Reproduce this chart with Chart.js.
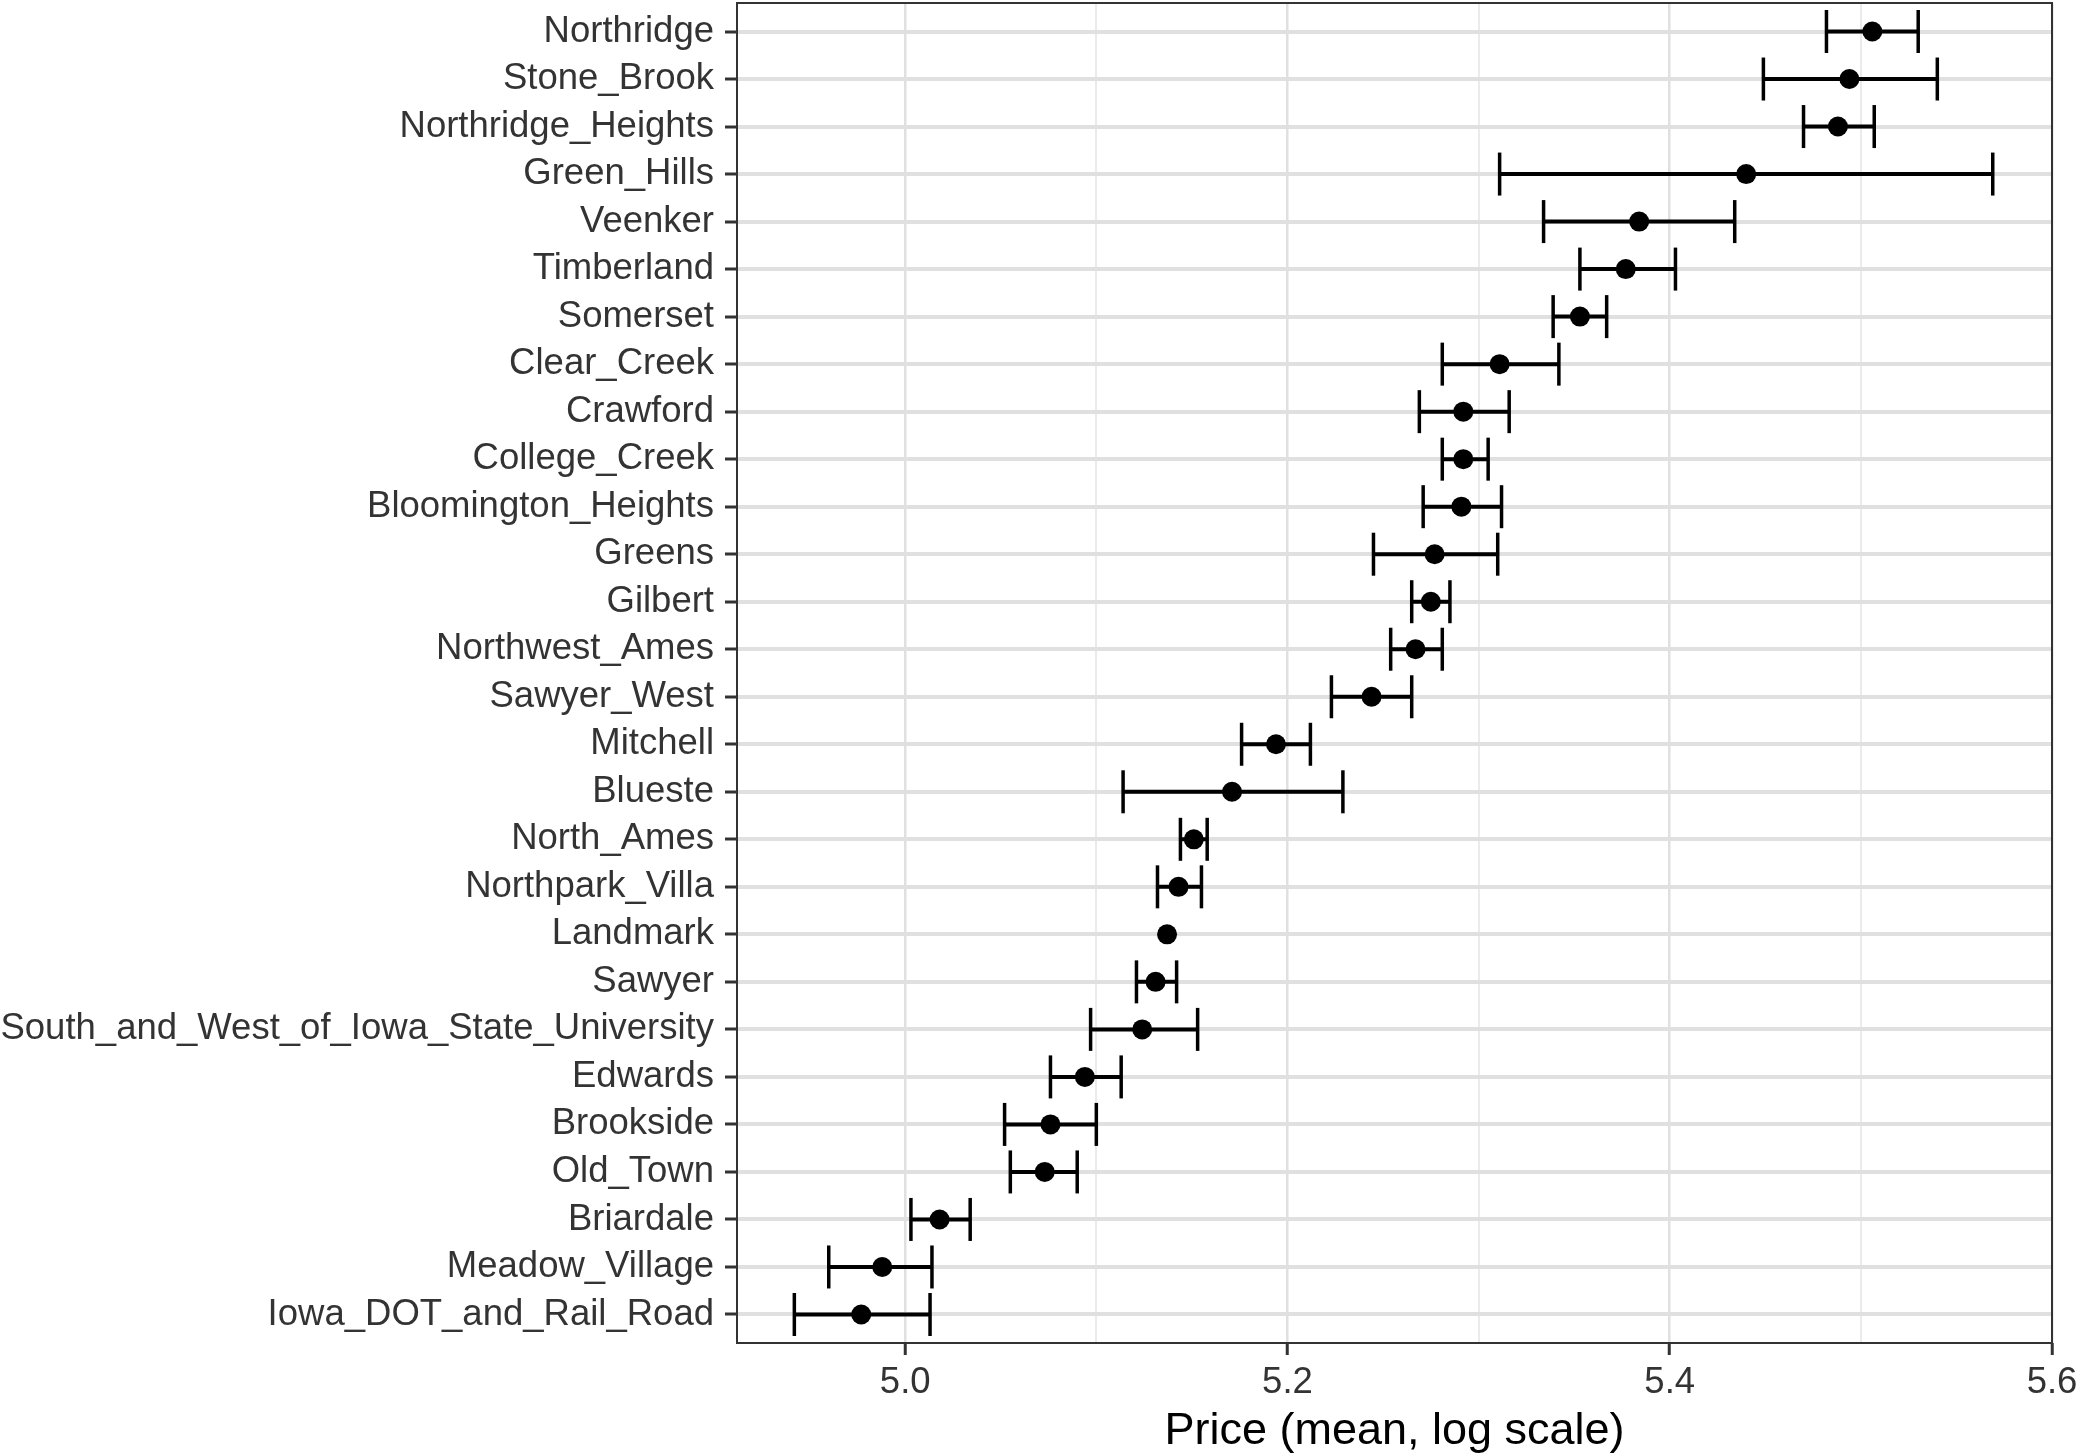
<!DOCTYPE html>
<html>
<head>
<meta charset="utf-8">
<script src="https://cdn.jsdelivr.net/npm/chart.js@4"></script>
<style>
    html, body { margin: 0; padding: 0; background: #fff; }
    #chart { display: block; }
</style>
</head>
<body>
<canvas id="chart" width="2076" height="1455"></canvas>
<script>
const neighborhoods = [
    'Northridge', 'Stone_Brook', 'Northridge_Heights', 'Green_Hills', 'Veenker',
    'Timberland', 'Somerset', 'Clear_Creek', 'Crawford', 'College_Creek',
    'Bloomington_Heights', 'Greens', 'Gilbert', 'Northwest_Ames', 'Sawyer_West',
    'Mitchell', 'Blueste', 'North_Ames', 'Northpark_Villa', 'Landmark',
    'Sawyer', 'South_and_West_of_Iowa_State_University', 'Edwards', 'Brookside', 'Old_Town',
    'Briardale', 'Meadow_Village', 'Iowa_DOT_and_Rail_Road'
];
const meanPrice = [
    5.506, 5.494, 5.488, 5.440, 5.384,
    5.377, 5.353, 5.311, 5.292, 5.292,
    5.291, 5.277, 5.275, 5.267, 5.244,
    5.194, 5.171, 5.151, 5.143, 5.137,
    5.131, 5.124, 5.094, 5.076, 5.073,
    5.018, 4.988, 4.977
];
const lowerPrice = [
    5.482, 5.449, 5.470, 5.311, 5.334,
    5.353, 5.339, 5.281, 5.269, 5.281,
    5.271, 5.245, 5.265, 5.254, 5.223,
    5.176, 5.114, 5.144, 5.132, null,
    5.121, 5.097, 5.076, 5.052, 5.055,
    5.003, 4.960, 4.942
];
const upperPrice = [
    5.530, 5.540, 5.507, 5.569, 5.434,
    5.403, 5.367, 5.342, 5.316, 5.305,
    5.312, 5.310, 5.285, 5.281, 5.265,
    5.212, 5.229, 5.158, 5.155, null,
    5.142, 5.153, 5.113, 5.100, 5.090,
    5.034, 5.014, 5.013
];
const majorTicks = [5.0, 5.2, 5.4, 5.6];
const minorTicks = [5.1, 5.3, 5.5];

const FONT = '"Liberation Sans", Arial, Helvetica, sans-serif';

const meanPoints = meanPrice.map((v, i) => ({x: v, y: i}));

// whisker segments, broken by a null point between rows
const whiskerPoints = [];
const capPoints = [];
lowerPrice.forEach((lo, i) => {
    if (lo === null) return;
    whiskerPoints.push({x: lo, y: i}, {x: upperPrice[i], y: i}, {x: upperPrice[i], y: null});
    capPoints.push({x: lo, y: i}, {x: upperPrice[i], y: i});
});

const isMajor = v => majorTicks.some(t => Math.abs(t - v) < 1e-6);

const panelBorder = {
    id: 'panelBorder',
    afterDatasetsDraw(chart) {
        const a = chart.chartArea;
        const ctx = chart.ctx;
        ctx.save();
        ctx.strokeStyle = '#333333';
        ctx.lineWidth = 2;
        ctx.strokeRect(a.left, a.top, a.right - a.left, a.bottom - a.top);
        ctx.restore();
    }
};

new Chart(document.getElementById('chart'), {
    type: 'scatter',
    data: {
        datasets: [
            {
                label: 'mean',
                data: meanPoints,
                pointRadius: 10,
                pointBackgroundColor: '#000',
                pointBorderWidth: 0,
                showLine: false
            },
            {
                label: 'caps',
                data: capPoints,
                pointStyle: 'line',
                rotation: 90,
                pointRadius: 21.5,
                pointBorderColor: '#000',
                pointBorderWidth: 3.5,
                showLine: false
            },
            {
                label: 'interval',
                data: whiskerPoints,
                showLine: true,
                spanGaps: false,
                borderColor: '#000',
                borderWidth: 4,
                pointRadius: 0
            }
        ]
    },
    options: {
        responsive: false,
        animation: false,
        devicePixelRatio: 1,
        layout: {
            autoPadding: false,
            padding: {top: 3, right: 24, bottom: 0, left: 0}
        },
        plugins: {
            legend: {display: false},
            tooltip: {enabled: false}
        },
        scales: {
            x: {
                type: 'linear',
                min: 4.912,
                max: 5.6,
                afterBuildTicks: scale => {
                    scale.ticks = majorTicks.concat(minorTicks).sort((a, b) => a - b).map(v => ({value: v}));
                },
                afterFit: scale => {
                    scale.height = 112;
                    scale.paddingLeft = 0;
                    scale.paddingRight = 0;
                },
                border: {display: false},
                grid: {
                    color: ctx => isMajor(ctx.tick.value) ? '#E0E0E0' : '#EBEBEB',
                    lineWidth: ctx => isMajor(ctx.tick.value) ? 2.5 : 2,
                    tickColor: ctx => isMajor(ctx.tick.value) ? '#333333' : 'rgba(0,0,0,0)',
                    tickWidth: 3,
                    tickLength: 12
                },
                ticks: {
                    autoSkip: false,
                    maxRotation: 0,
                    padding: 6,
                    color: '#333333',
                    font: {family: FONT, size: 36.5},
                    callback: v => isMajor(v) ? v.toFixed(1) : ''
                },
                title: {
                    display: true,
                    text: 'Price (mean, log scale)',
                    color: '#000',
                    font: {family: FONT, size: 45, lineHeight: 1.05},
                    padding: {top: 0, bottom: 0}
                }
            },
            y: {
                type: 'linear',
                reverse: true,
                min: -0.6,
                max: neighborhoods.length - 0.4,
                afterBuildTicks: scale => {
                    scale.ticks = neighborhoods.map((n, i) => ({value: i}));
                },
                afterFit: scale => {
                    scale.width = 737;
                    scale.paddingTop = 0;
                    scale.paddingBottom = 0;
                },
                border: {display: false},
                grid: {
                    color: '#E0E0E0',
                    lineWidth: 4,
                    tickColor: '#333333',
                    tickWidth: 3,
                    tickLength: 12
                },
                ticks: {
                    autoSkip: false,
                    padding: 11,
                    color: '#333333',
                    font: {family: FONT, size: 36.5},
                    callback: v => neighborhoods[v]
                }
            }
        }
    },
    plugins: [panelBorder]
});
</script>
</body>
</html>
